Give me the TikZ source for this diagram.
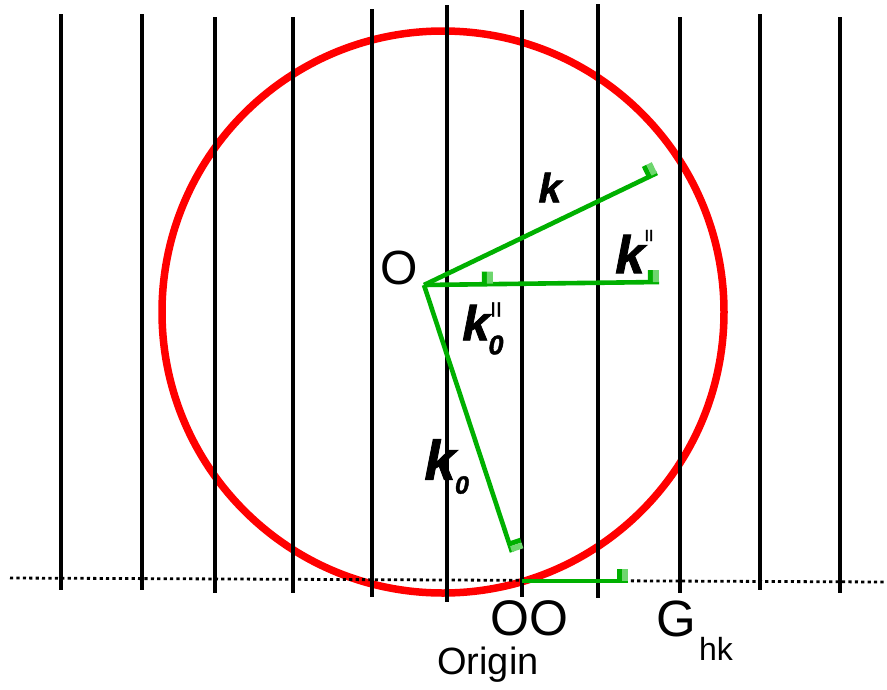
\documentclass[tikz,border=0pt]{standalone}
\usepackage{fontspec}
\setmainfont{Liberation Sans}
\newfontfamily\kfont{Liberation Sans}[FakeBold=1.6]
\newfontfamily\bfont{Liberation Sans}[FakeBold=1.0]
\usetikzlibrary{calc}
\definecolor{gline}{RGB}{0,176,0}
\definecolor{glight}{RGB}{110,214,110}
\definecolor{cred}{RGB}{255,0,0}
\newcommand\fsz[1]{\fontsize{#1}{#1}\selectfont}
\newcommand\rmark[2]{%
  \coordinate (ma) at ($(#2)!11pt!(#1)$);
  \coordinate (mb) at ($(#2)!6pt!(#1)$);
  \coordinate (man) at ($(ma)!12pt!90:(#2)$);
  \coordinate (mbn) at ($(mb)!12pt!90:(#2)$);
  \coordinate (mcn) at ($(#2)!12pt!-90:(#1)$);
  \fill[gline] (ma) -- (mb) -- (mbn) -- (man) -- cycle;
  \fill[glight] (mb) -- (#2) -- (mcn) -- (mbn) -- cycle;
}
\begin{document}
\begin{tikzpicture}[x=1pt,y=-1pt,
  vline/.style={line width=3.2pt,black},
  gvec/.style={line width=4.6pt,gline,line join=miter},
  lbl/.style={inner sep=0pt,outer sep=0pt}]
\useasboundingbox[fill=white] (0,0) rectangle (887,689);
% Ewald circle
\draw[cred,line width=7.5pt] (443,312) circle[radius=281];
% lattice rows
\foreach \x/\t/\b [count=\i] in {61/14/590,142/14/590,215/17/593,293/17/593,372/9/597,447/5/602,522/10/597,598/4/598,680/17/593,760/14/590,840/17/593}{
  \coordinate (t\i) at (\x,\t);
  \coordinate (b\i) at (\x,\b);
  \draw[vline] (t\i) -- (b\i);
}
% dotted horizon
\coordinate (dl) at (10,578);
\coordinate (dr) at (885,582);
\draw[black,line width=2.8pt,dash pattern=on 3.2pt off 3.2pt] (dl) -- (dr);
% vectors
\coordinate (O) at (424,285);
\coordinate (kend) at (657,173);
\coordinate (kpar) at (659,282);
\coordinate (kmid) at (493,283.5);
\coordinate (k0end) at (512,552);
\coordinate (g0) at (522,581);
\coordinate (g1) at (628,581);
\draw[gvec] (O) -- (kend);
\draw[gvec] (O) -- (kpar);
\draw[gvec] (O) -- (k0end);
\draw[gvec] (g0) -- (g1);
\rmark{O}{kend}
\rmark{O}{kpar}
\rmark{O}{kmid}
\rmark{O}{k0end}
\rmark{g0}{g1}
% labels
\node[lbl,font=\fsz{48}] (lO) at (399,268) {O};
\node[lbl,font=\kfont\fsz{41}\bfseries\itshape] (lk) at (550,187.5) {k};
\node[lbl,font=\kfont\fsz{53}\bfseries\itshape] (lkp) at (630,254) {k};
\node[lbl,font=\bfont\fsz{16}] (lkpi) at (649,235.5) {II};
\node[lbl,font=\kfont\fsz{49}\bfseries\itshape] (lk0p) at (476,322.5) {k};
\node[lbl,font=\bfont\fsz{21}] (lk0pi) at (496,309.5) {II};
\node[lbl,font=\kfont\fsz{27}\bfseries\itshape] (lk0p0) at (496,345) {0};
\node[lbl,font=\kfont\fsz{56}\bfseries\itshape] (lk0) at (440,459.5) {k};
\node[lbl,font=\kfont\fsz{25}\bfseries\itshape] (lk00) at (462,485) {0};
\node[lbl,font=\fsz{50}] (lOO) at (529,618.5) {OO};
\node[lbl,font=\fsz{38}] (lorig) at (488,665) {Origin};
\node[lbl,font=\fsz{51}] (lG) at (676,618.5) {G};
\node[lbl,font=\fsz{32}] (lhk) at (716,648.5) {hk};
\end{tikzpicture}
\end{document}
